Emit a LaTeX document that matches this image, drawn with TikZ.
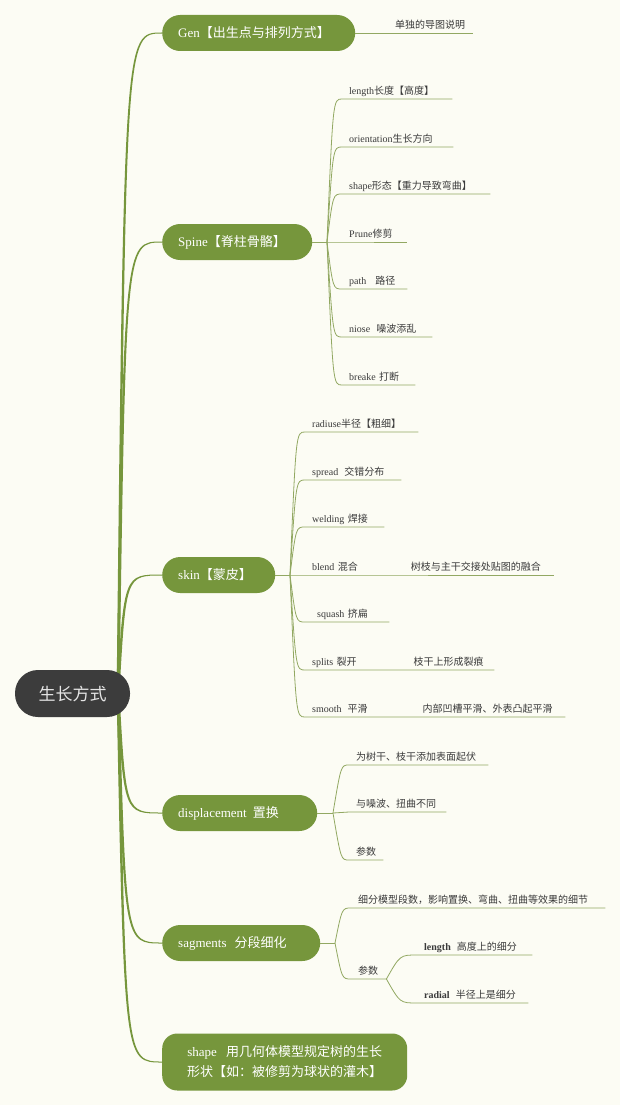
\documentclass[tikz,border=0pt]{standalone}
\usepackage{fontspec}
\setmainfont{Liberation Serif}
\newfontfamily\zh{Noto Sans CJK SC}
\usepackage{tikz}
\usetikzlibrary{calc}
\definecolor{paper}{HTML}{FCFCF4}
\definecolor{moss}{HTML}{76963C}
\definecolor{twigcolor}{HTML}{92A862}
\definecolor{ink}{HTML}{3A3A3A}
\definecolor{coal}{HTML}{3C3C3C}
\tikzset{
    root/.style={fill=coal,text=white!90!black,rounded corners=23pt,minimum width=115pt,minimum height=47pt,inner sep=0pt,font=\fontsize{17}{20}\selectfont\zh},
    topic/.style={fill=moss,text=white,rounded corners=18pt,minimum height=36pt,inner xsep=16pt,inner ysep=0pt,anchor=west,align=left,text width=#1,font=\fontsize{13}{16}\selectfont},
    leaf/.style={anchor=south west,inner xsep=7pt,inner ysep=2pt,text height=8pt,text depth=2pt,align=left,text width=#1,text=ink,font=\fontsize{10}{12}\selectfont},
    twig/.style={draw=twigcolor,line width=0.8pt},
    }
% tapered branch from hub to a topic: #1 = topic, #2 = 1 up / -1 down
\newcommand{\limb}[2]{%
    \fill[moss] ($(hub)+(-1.4,0)$) .. controls ($(hub |- #1.west)+(6,-0.5*#2)$) .. ($(#1.west)+(0,-0.5*#2)$)
        -- ($(#1.west)+(0,0.5*#2)$) .. controls ($(hub |- #1.west)+(8,0.5*#2)$) .. ($(hub)+(1.4,0)$) -- cycle;}

\begin{document}
\begin{tikzpicture}[x=1pt,y=-1pt]
    \fill[paper] (0,0) rectangle (620,1105);
    \useasboundingbox (0,0) rectangle (620,1105);

    % main topics
    \node[topic=161pt] (gen) at (162,33) {Gen{\zh 【出生点与排列方式】}};
    \node[topic=118pt] (spine) at (162,242) {Spine{\zh 【脊柱骨骼】}};
    \node[topic=81pt] (skin) at (162,575) {skin{\zh 【蒙皮】}};
    \node[topic=123pt] (disp) at (162,813) {displacement\hspace{6pt}{\zh 置换}};
    \node[topic=126pt] (sag) at (162,943) {sagments\hspace{8pt}{\zh 分段细化}};
    \node[topic=213pt,align=center,rounded corners=15pt,minimum height=57pt,font=\fontsize{13}{20}\selectfont] (form) at (162,1062)
        {shape\hspace{9pt}{\zh 用几何体模型规定树的生长}\\{\zh 形状【如：被修剪为球状的灌木】}};

    \coordinate (hub) at (118,693);
    \limb{gen}{1}
    \limb{spine}{1}
    \limb{skin}{1}
    \limb{disp}{-1}
    \limb{sag}{-1}
    \limb{form}{-1}

    \node[root] (root) at (72.5,693.5) {生长方式};

    % Gen
    \node[leaf=71pt] (note) at (388,33) {\zh 单独的导图说明};
    \draw[twig] (gen.east) -- (note.south east);

    % Spine
    \coordinate (sphub) at (327,242);
    \node[leaf=96pt] (len) at (342,99) {length{\zh 长度【高度】}};
    \node[leaf=97pt] (ori) at (342,147) {orientation{\zh 生长方向}};
    \node[leaf=134pt] (bend) at (342,194) {shape{\zh 形态【重力导致弯曲】}};
    \node[leaf=51pt] (prune) at (342,242) {Prune{\zh 修剪}};
    \node[leaf=51pt] (path) at (342,289) {path\hspace{9pt}{\zh 路径}};
    \node[leaf=76pt] (noise) at (342,337) {niose\hspace{6pt}{\zh 噪波添乱}};
    \node[leaf=59pt] (brk) at (342,385) {breake {\zh 打断}};

    \draw[twig] (spine.east) -- (sphub);
    \draw[twig] (sphub) .. controls (333,99) .. (len.south west) -- (len.south east);
    \draw[twig] (sphub) .. controls (333,147) .. (ori.south west) -- (ori.south east);
    \draw[twig] (sphub) .. controls (333,194) .. (bend.south west) -- (bend.south east);
    \draw[twig] (sphub) -- (prune.south west) -- (prune.south east);
    \draw[twig] (sphub) .. controls (333,289) .. (path.south west) -- (path.south east);
    \draw[twig] (sphub) .. controls (333,337) .. (noise.south west) -- (noise.south east);
    \draw[twig] (sphub) .. controls (333,385) .. (brk.south west) -- (brk.south east);

    % skin
    \coordinate (skhub) at (290,575);
    \node[leaf=99pt] (rad) at (305,432) {radiuse{\zh 半径【粗细】}};
    \node[leaf=82pt] (spread) at (305,480) {spread\hspace{6pt}{\zh 交错分布}};
    \node[leaf=65pt] (weld) at (305,527) {welding {\zh 焊接}};
    \node[leaf=235pt] (blend) at (305,575) {blend {\zh 混合}\hspace{53pt}{\zh 树枝与主干交接处贴图的融合}};
    \node[leaf=70pt] (squash) at (305,622) {\hspace{5pt}squash {\zh 挤扁}};
    \node[leaf=175pt] (split) at (305,670) {splits {\zh 裂开}\hspace{57pt}{\zh 枝干上形成裂痕}};
    \node[leaf=246pt] (smooth) at (305,717) {smooth\hspace{6pt}{\zh 平滑}\hspace{55pt}{\zh 内部凹槽平滑、外表凸起平滑}};

    \draw[twig] (skin.east) -- (skhub);
    \draw[twig] (skhub) .. controls (296,432) .. (rad.south west) -- (rad.south east);
    \draw[twig] (skhub) .. controls (296,480) .. (spread.south west) -- (spread.south east);
    \draw[twig] (skhub) .. controls (296,527) .. (weld.south west) -- (weld.south east);
    \draw[twig] (skhub) -- (blend.south west) -- (blend.south east);
    \draw[twig] (skhub) .. controls (296,622) .. (squash.south west) -- (squash.south east);
    \draw[twig] (skhub) .. controls (296,670) .. (split.south west) -- (split.south east);
    \draw[twig] (skhub) .. controls (296,717) .. (smooth.south west) -- (smooth.south east);

    % displacement
    \coordinate (dphub) at (333,813);
    \node[leaf=125pt] (d1) at (349,765) {\zh 为树干、枝干添加表面起伏};
    \node[leaf=83pt] (d2) at (349,812) {\zh 与噪波、扭曲不同};
    \node[leaf=20pt] (d3) at (349,860) {\zh 参数};

    \draw[twig] (disp.east) -- (dphub);
    \draw[twig] (dphub) .. controls (341,765) .. (d1.south west) -- (d1.south east);
    \draw[twig] (dphub) -- (d2.south west) -- (d2.south east);
    \draw[twig] (dphub) .. controls (341,860) .. (d3.south west) -- (d3.south east);

    % sagments
    \coordinate (sghub) at (335,943);
    \node[leaf=240pt] (s1) at (351,908) {\zh 细分模型段数，影响置换、弯曲、扭曲等效果的细节};
    \node[leaf=21pt] (s2) at (351,979) {\zh 参数};
    \node[leaf=101pt] (sl) at (417,955) {\textbf{length}\hspace{6pt}{\zh 高度上的细分}};
    \node[leaf=97pt] (sr) at (417,1003) {\textbf{radial}\hspace{6pt}{\zh 半径上是细分}};

    \draw[twig] (sag.east) -- (sghub);
    \draw[twig] (sghub) .. controls (342,908) .. (s1.south west) -- (s1.south east);
    \draw[twig] (sghub) .. controls (342,979) .. (s2.south west) -- (s2.south east);
    \draw[twig] (s2.south east) .. controls (400,955) .. (sl.south west) -- (sl.south east);
    \draw[twig] (s2.south east) .. controls (400,1003) .. (sr.south west) -- (sr.south east);
\end{tikzpicture}
\end{document}
